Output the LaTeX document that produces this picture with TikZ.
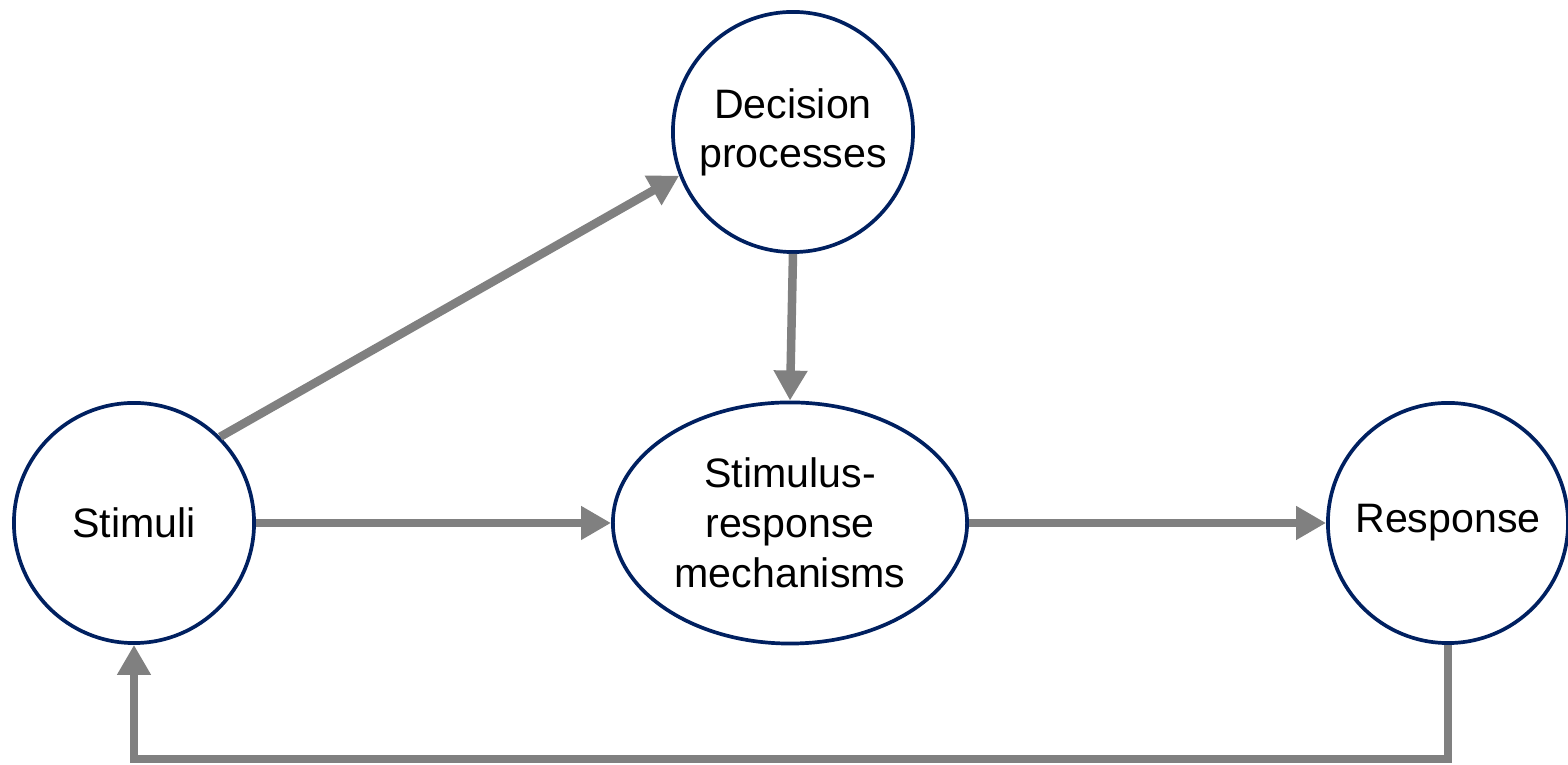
\documentclass[tikz,border=0pt]{standalone}
\usepackage{fontspec}
\setmainfont{Liberation Sans}
\usetikzlibrary{shapes.geometric,arrows.meta}
\definecolor{navy}{RGB}{0,32,96}
\definecolor{arrowgray}{RGB}{128,128,128}
\tikzset{
  circ/.style={circle,draw=navy,line width=1.05pt,minimum size=2.40cm,inner sep=0pt,align=center,font=\fontsize{11.7}{14}\selectfont},
  ell/.style={ellipse,draw=navy,line width=1.05pt,minimum width=3.54cm,minimum height=2.41cm,inner sep=0pt,align=center,font=\fontsize{11.7}{14.3}\selectfont},
  conn/.style={draw=arrowgray,line width=0.085cm,-{Triangle[length=0.30cm,width=0.32cm]}},
}
\begin{document}
\begin{tikzpicture}[x=0.01cm,y=-0.01cm]
\useasboundingbox (0,0) rectangle (1568,765);
\node[circ] (stim) at (134,523) {Stimuli};
\node[circ] (dec) at (793,132) {Decision\\processes};
\node[ell] (sr) at (790,523) {Stimulus-\\response\\mechanisms};
\node[circ] (resp) at (1448,523) {Response};
\draw[conn] (stim.45) -- (dec.201);
\draw[conn] (dec.south) -- (sr.north);
\draw[conn] (stim.east) -- (sr.west);
\draw[conn] (sr.east) -- (resp.west);
\coordinate (fb) at (1448,759);
\draw[conn] (resp.south) -- (fb) -| (stim.south);
\end{tikzpicture}
\end{document}
